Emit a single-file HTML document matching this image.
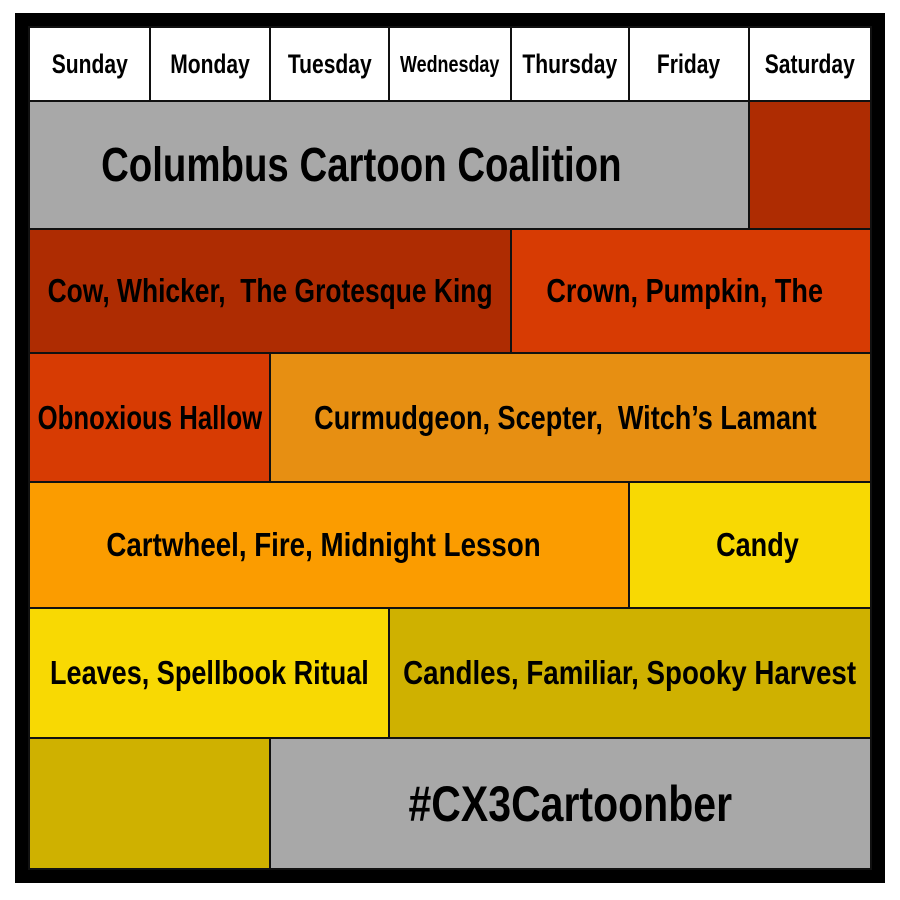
<!DOCTYPE html>
<html><head><meta charset="utf-8"><style>
body{margin:0;width:900px;height:900px;background:#fff;position:relative;overflow:hidden;font-family:"Liberation Sans",sans-serif;}
.frame{position:absolute;left:15px;top:13px;width:870px;height:870px;background:#000;}
.c{position:absolute;box-sizing:border-box;border:2px solid #111;display:flex;align-items:center;justify-content:center;font-weight:bold;color:#000;white-space:nowrap;font-size:33px;}
.c span{display:inline-block;transform:scaleX(0.82);}
.h{background:#fff;font-size:27px;}
.h span{transform:scaleX(0.78);}
</style></head><body>
<div class="frame"></div>
<div class="c h" style="left:28px;top:26px;width:123px;height:76px"><span>Sunday</span></div>
<div class="c h" style="left:149px;top:26px;width:122px;height:76px"><span>Monday</span></div>
<div class="c h" style="left:269px;top:26px;width:121px;height:76px"><span>Tuesday</span></div>
<div class="c h" style="left:388px;top:26px;width:124px;height:76px;font-size:23px"><span>Wednesday</span></div>
<div class="c h" style="left:510px;top:26px;width:120px;height:76px"><span>Thursday</span></div>
<div class="c h" style="left:628px;top:26px;width:122px;height:76px"><span>Friday</span></div>
<div class="c h" style="left:748px;top:26px;width:124px;height:76px"><span>Saturday</span></div>

<div class="c" style="left:28px;top:100px;width:722px;height:130px;background:#a8a8a8;font-size:48px;padding-right:56px"><span style="transform:scaleX(0.8)">Columbus Cartoon Coalition</span></div>
<div class="c" style="left:748px;top:100px;width:124px;height:130px;background:#ae2c02"></div>

<div class="c" style="left:28px;top:228px;width:484px;height:126px;background:#ae2c02"><span style="transform:scaleX(0.8)">Cow, Whicker,&nbsp; The Grotesque King</span></div>
<div class="c" style="left:510px;top:228px;width:362px;height:126px;background:#d73b03;padding-right:12px"><span>Crown, Pumpkin, The</span></div>

<div class="c" style="left:28px;top:352px;width:243px;height:131px;background:#d73b03"><span style="transform:scaleX(0.78)">Obnoxious Hallow</span></div>
<div class="c" style="left:269px;top:352px;width:603px;height:131px;background:#e78f12;padding-right:10px"><span>Curmudgeon, Scepter,&nbsp; Witch’s Lamant</span></div>

<div class="c" style="left:28px;top:481px;width:602px;height:128px;background:#fb9c00;padding-right:10px"><span style="transform:scaleX(0.84)">Cartwheel, Fire, Midnight Lesson</span></div>
<div class="c" style="left:628px;top:481px;width:244px;height:128px;background:#f8d903;padding-left:14px"><span>Candy</span></div>

<div class="c" style="left:28px;top:607px;width:362px;height:132px;background:#f8d903"><span>Leaves, Spellbook Ritual</span></div>
<div class="c" style="left:388px;top:607px;width:484px;height:132px;background:#cfb100"><span style="transform:scaleX(0.84)">Candles, Familiar, Spooky Harvest</span></div>

<div class="c" style="left:28px;top:737px;width:243px;height:133px;background:#cfb100"></div>
<div class="c" style="left:269px;top:737px;width:603px;height:133px;background:#a8a8a8;font-size:50px"><span>#CX3Cartoonber</span></div>
</body></html>
